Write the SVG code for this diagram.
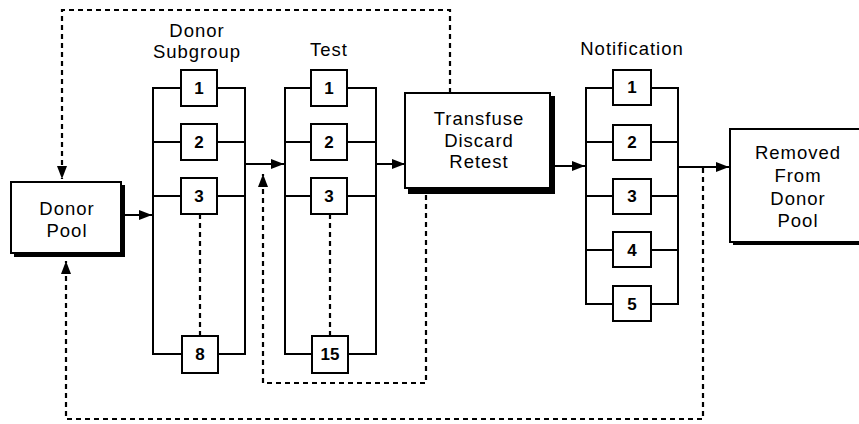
<svg xmlns="http://www.w3.org/2000/svg" width="859" height="424" viewBox="0 0 859 424">
  <style>
    .line { fill: none; stroke: #000; stroke-width: 2; }
    .dash { fill: none; stroke: #000; stroke-width: 2.2; stroke-dasharray: 5 4; }
    .box { fill: #fff; stroke: #000; stroke-width: 2; }
    .shadow { fill: #000; }
    .num { fill: #fff; stroke: #000; stroke-width: 2; }
    .label { font-family: "Liberation Sans", Arial, sans-serif; font-size: 18.5px; letter-spacing: 1px; text-anchor: middle; fill: #000; }
    .digit { font-family: "Liberation Sans", Arial, sans-serif; font-size: 17px; font-weight: bold; text-anchor: middle; fill: #000; }
  </style>
  <defs>
    <marker id="head" viewBox="0 0 13 10" refX="13" refY="5" markerWidth="13" markerHeight="10" markerUnits="userSpaceOnUse" orient="auto">
      <path d="M0,0 L13,5 L0,10 Z" fill="#000"/>
    </marker>
  </defs>
  <rect width="859" height="424" fill="#fff"/>

  <!-- connectors -->
  <g id="connectors">
    <line class="line" x1="125" y1="215" x2="152" y2="215" marker-end="url(#head)"/>
    <line class="line" x1="245" y1="164" x2="284" y2="164" marker-end="url(#head)"/>
    <line class="line" x1="376" y1="164" x2="405" y2="164" marker-end="url(#head)"/>
    <line class="line" x1="555" y1="166" x2="585" y2="166" marker-end="url(#head)"/>
    <line class="line" x1="678" y1="167" x2="729" y2="167" marker-end="url(#head)"/>
    <!-- feedback loops -->
    <path class="dash" d="M450,93 V10 H62 V179" marker-end="url(#head)"/>
    <path class="dash" d="M426,195 V383 H263 V174" marker-end="url(#head)"/>
    <path class="dash" d="M703,168 V419 H66 V261" marker-end="url(#head)"/>
  </g>

  <!-- donor pool -->
  <g id="donor-pool">
    <rect class="shadow" x="14" y="185" width="111" height="72"/>
    <rect class="box" x="11" y="182" width="110" height="71"/>
    <text class="label" x="67" y="215">Donor</text>
    <text class="label" x="67" y="237">Pool</text>
  </g>

  <!-- donor subgroup -->
  <g id="donor-subgroup">
    <text class="label" x="197" y="37">Donor</text>
    <text class="label" x="197" y="58">Subgroup</text>
    <path class="line" d="M153,88 H245 V354 H153 Z M153,142 H245 M153,196 H245"/>
    <line class="dash" x1="200" y1="214" x2="200" y2="336"/>
    <rect class="num" x="181" y="70" width="36" height="36"/>
    <text class="digit" x="199" y="94">1</text>
    <rect class="num" x="181" y="124" width="36" height="36"/>
    <text class="digit" x="199" y="148">2</text>
    <rect class="num" x="181" y="178" width="36" height="36"/>
    <text class="digit" x="199" y="202">3</text>
    <rect class="num" x="182" y="336" width="36" height="37"/>
    <text class="digit" x="200" y="360">8</text>
  </g>

  <!-- test -->
  <g id="test">
    <text class="label" x="329" y="56">Test</text>
    <path class="line" d="M285,88 H376 V354 H285 Z M285,142 H376 M285,196 H376"/>
    <line class="dash" x1="330" y1="214" x2="330" y2="336"/>
    <rect class="num" x="311" y="70" width="36" height="36"/>
    <text class="digit" x="329" y="94">1</text>
    <rect class="num" x="311" y="124" width="36" height="36"/>
    <text class="digit" x="329" y="148">2</text>
    <rect class="num" x="311" y="178" width="36" height="36"/>
    <text class="digit" x="329" y="202">3</text>
    <rect class="num" x="312" y="336" width="36" height="37"/>
    <text class="digit" x="330" y="360">15</text>
  </g>

  <!-- transfuse / discard / retest -->
  <g id="transfuse">
    <rect class="shadow" x="408" y="96" width="147" height="98"/>
    <rect class="box" x="405" y="93" width="145" height="95"/>
    <text class="label" x="479" y="125">Transfuse</text>
    <text class="label" x="479" y="147">Discard</text>
    <text class="label" x="479" y="168">Retest</text>
  </g>

  <!-- notification -->
  <g id="notification">
    <text class="label" x="632" y="55">Notification</text>
    <path class="line" d="M586,88 H678 V304 H586 Z M586,142 H678 M586,196 H678 M586,250 H678"/>
    <rect class="num" x="613" y="70" width="38" height="35"/>
    <text class="digit" x="632" y="93">1</text>
    <rect class="num" x="613" y="125" width="38" height="35"/>
    <text class="digit" x="632" y="148">2</text>
    <rect class="num" x="613" y="179" width="38" height="35"/>
    <text class="digit" x="632" y="202">3</text>
    <rect class="num" x="613" y="232" width="38" height="35"/>
    <text class="digit" x="632" y="256">4</text>
    <rect class="num" x="613" y="286" width="38" height="35"/>
    <text class="digit" x="632" y="310">5</text>
  </g>

  <!-- removed from donor pool -->
  <g id="removed">
    <rect class="shadow" x="733" y="132" width="130" height="113"/>
    <rect class="box" x="730" y="129" width="132" height="113"/>
    <text class="label" x="798" y="159">Removed</text>
    <text class="label" x="798" y="182">From</text>
    <text class="label" x="798" y="205">Donor</text>
    <text class="label" x="798" y="227">Pool</text>
  </g>
</svg>
